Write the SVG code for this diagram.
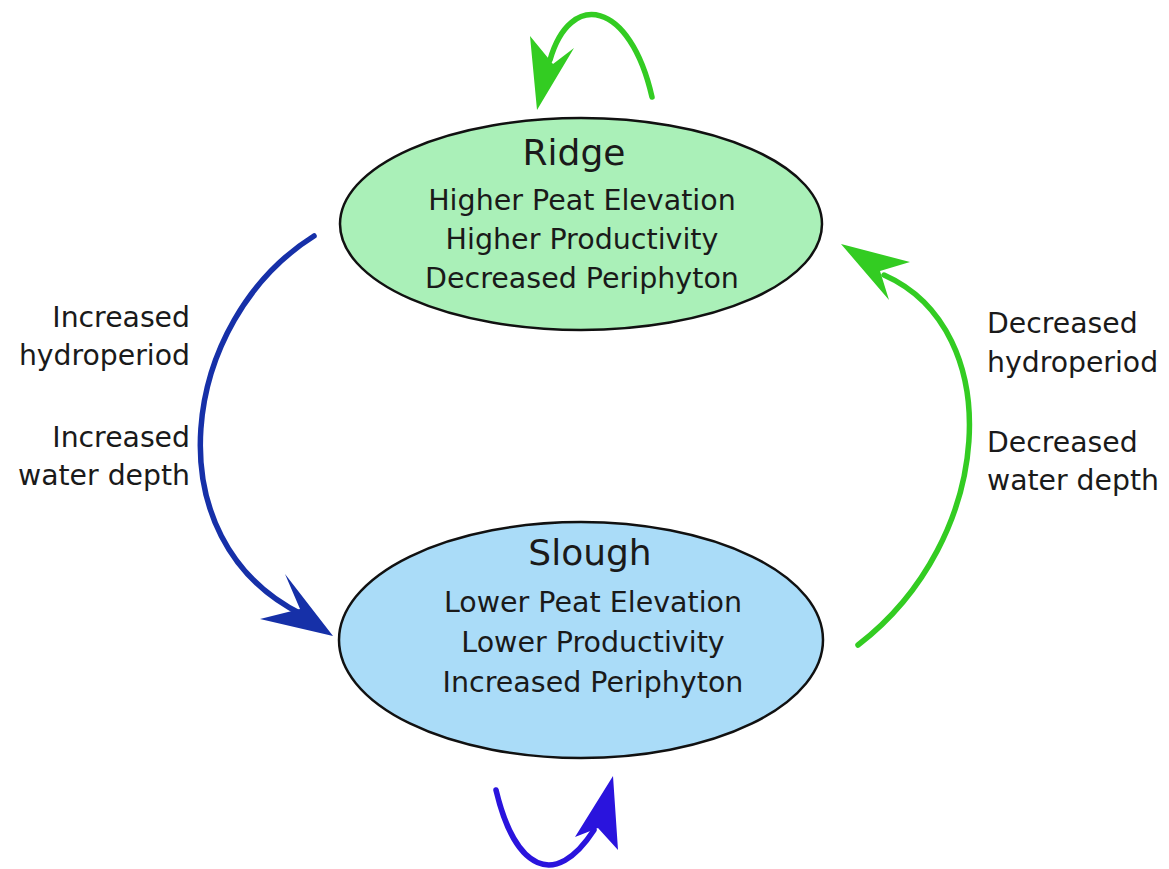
<svg xmlns="http://www.w3.org/2000/svg" width="1169" height="869" viewBox="0 0 1169 869">
<style>
text{font-family:"DejaVu Sans","Liberation Sans",sans-serif;fill:#1a1a1a}
.title{font-size:36px;text-anchor:middle}
.line{font-size:28.5px;text-anchor:middle}
.lab{font-size:28.3px}
.node{stroke:#111;stroke-width:2.5}
.green{stroke:#33cc22;fill:none;stroke-width:5.5;stroke-linecap:round}
.greenh{fill:#33cc22}
.blue{stroke:#1630a8;fill:none;stroke-width:5.5;stroke-linecap:round}
.blueh{fill:#1630a8}
.violet{stroke:#2a14dd;fill:none;stroke-width:5.5;stroke-linecap:round}
.violeth{fill:#2a14dd}
</style>
<rect width="1169" height="869" fill="#ffffff"/>
<g id="connectors">
<path class="green" d="M652,97 C630,0 570,-10 550,60"/>
<polygon class="greenh" points="537,110 530,36 553,64 574,48"/>
<path class="blue" d="M314,236 C180,320 150,540 303,615"/>
<polygon class="blueh" points="333,636 285,574 300,609 260,619"/>
<path class="green" d="M858,645 C995,540 1008,330 884,275"/>
<polygon class="greenh" points="841,244 910,262 880,271 889,300"/>
<path class="violet" d="M496,790 C515,870 555,890 594,830"/>
<polygon class="violeth" points="613,776 618,850 598,828 575,837"/>
</g>
<g id="ridge">
<ellipse class="node" cx="581" cy="224" rx="241" ry="106" fill="#aaf0b8"/>
<text class="title" x="574" y="165">Ridge</text>
<text class="line" x="582" y="210">Higher Peat Elevation</text>
<text class="line" x="582" y="249">Higher Productivity</text>
<text class="line" x="582" y="288">Decreased Periphyton</text>
</g>
<g id="slough">
<ellipse class="node" cx="581" cy="640" rx="242" ry="118" fill="#aadcf8"/>
<text class="title" x="590" y="565">Slough</text>
<text class="line" x="593" y="612">Lower Peat Elevation</text>
<text class="line" x="593" y="652">Lower Productivity</text>
<text class="line" x="593" y="692">Increased Periphyton</text>
</g>
<g id="left-labels">
<text class="lab" x="190" y="327" text-anchor="end">Increased</text>
<text class="lab" x="190" y="365" text-anchor="end">hydroperiod</text>
<text class="lab" x="190" y="447" text-anchor="end">Increased</text>
<text class="lab" x="190" y="485" text-anchor="end">water depth</text>
</g>
<g id="right-labels">
<text class="lab" x="987" y="333">Decreased</text>
<text class="lab" x="987" y="372">hydroperiod</text>
<text class="lab" x="987" y="452">Decreased</text>
<text class="lab" x="987" y="490">water depth</text>
</g>
</svg>
